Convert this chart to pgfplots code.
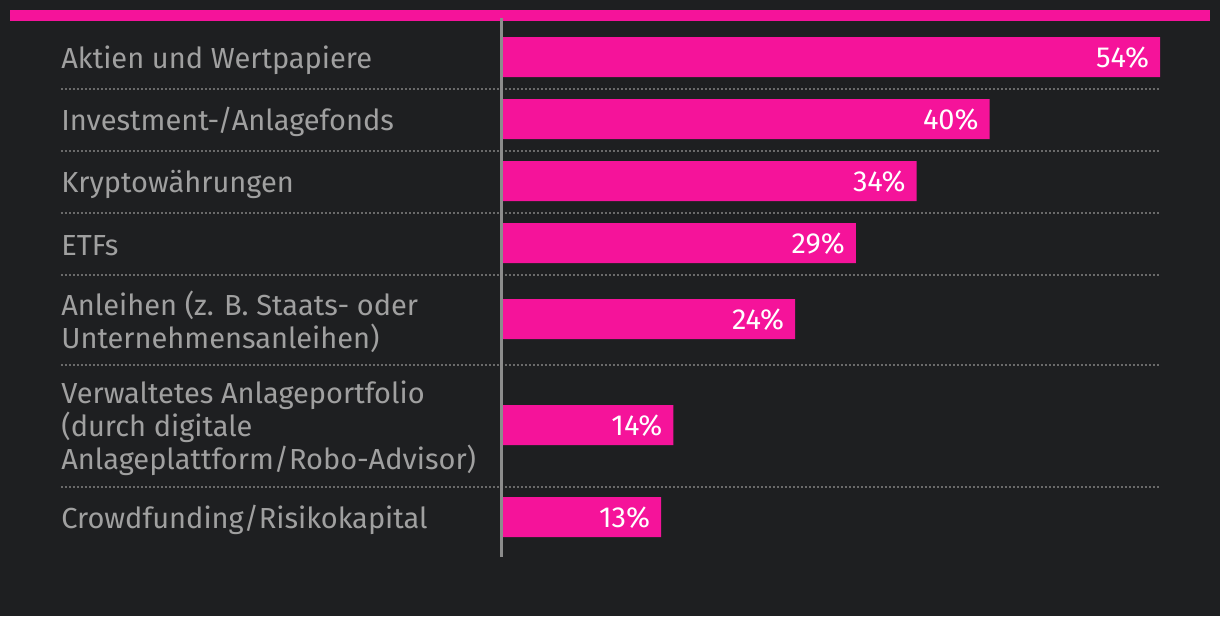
\documentclass[border=0pt]{standalone}
\usepackage{pgfplots}
\pgfplotsset{compat=1.18}
\usepackage{fontspec}
\setmainfont{Fira Sans}
\definecolor{bg}{HTML}{1E1F21}
\definecolor{mag}{HTML}{F5139A}
\definecolor{lab}{HTML}{A0A0A0}
\definecolor{sep}{HTML}{6A6A6A}
\definecolor{axc}{HTML}{8C8C8C}
\begin{document}
\begin{tikzpicture}
\fill[bg] (0,0) rectangle (610pt,308pt);
\begin{axis}[at={(0,0)}, anchor=south west, width=610pt, height=308pt,
  scale only axis, hide axis, xmin=-41.34, xmax=58.93, ymin=0, ymax=616,
  y dir=reverse, clip=false, xbar, bar width=40,
  /pgf/number format/assume math mode=true]
% top band
\fill[mag] (axis cs:-40.52,10) rectangle (axis cs:58.11,21);
% separators
\foreach \yy in {89,151,213,275,365,487}{
  \edef\tmp{\noexpand\draw[sep, line width=1pt, dash pattern=on 1pt off 1pt] (axis cs:-36.33,\yy) -- (axis cs:54.0,\yy);}\tmp
}
\addplot[fill=mag, draw=none, point meta=x,
  nodes near coords={\pgfmathprintnumber{\pgfplotspointmeta}\%},
  nodes near coords align={anchor=east},
  every node near coord/.append style={anchor=east, xshift=-2pt, yshift=-0.5pt, text=white, font=\fontsize{14.5}{16.5}\selectfont}]
  coordinates {(54,57) (40,119) (34,181) (29,243) (24,319) (14,425) (13,517)};
% axis line
\draw[axc, line width=1.5pt] (axis cs:-0.16,18) -- (axis cs:-0.16,557);
% labels
\begin{scope}[every node/.style={anchor=west, align=left, text=lab, font=\fontsize{14.5}{16.5}\selectfont, inner sep=0pt, yshift=-1.5pt}]
\node at (axis cs:-36.33,57) {Aktien und Wertpapiere};
\node at (axis cs:-36.33,119) {Investment-/Anlagefonds};
\node at (axis cs:-36.33,181) {Kryptowährungen};
\node at (axis cs:-36.33,243) {ETFs};
\node at (axis cs:-36.33,319) {Anleihen (z. B. Staats- oder\\Unternehmensanleihen)};
\node at (axis cs:-36.33,425) {Verwaltetes Anlageportfolio\\(durch digitale\\Anlageplattform/Robo-Advisor)};
\node at (axis cs:-36.33,517) {Crowdfunding/Risikokapital};
\end{scope}
\end{axis}
\end{tikzpicture}
\end{document}
